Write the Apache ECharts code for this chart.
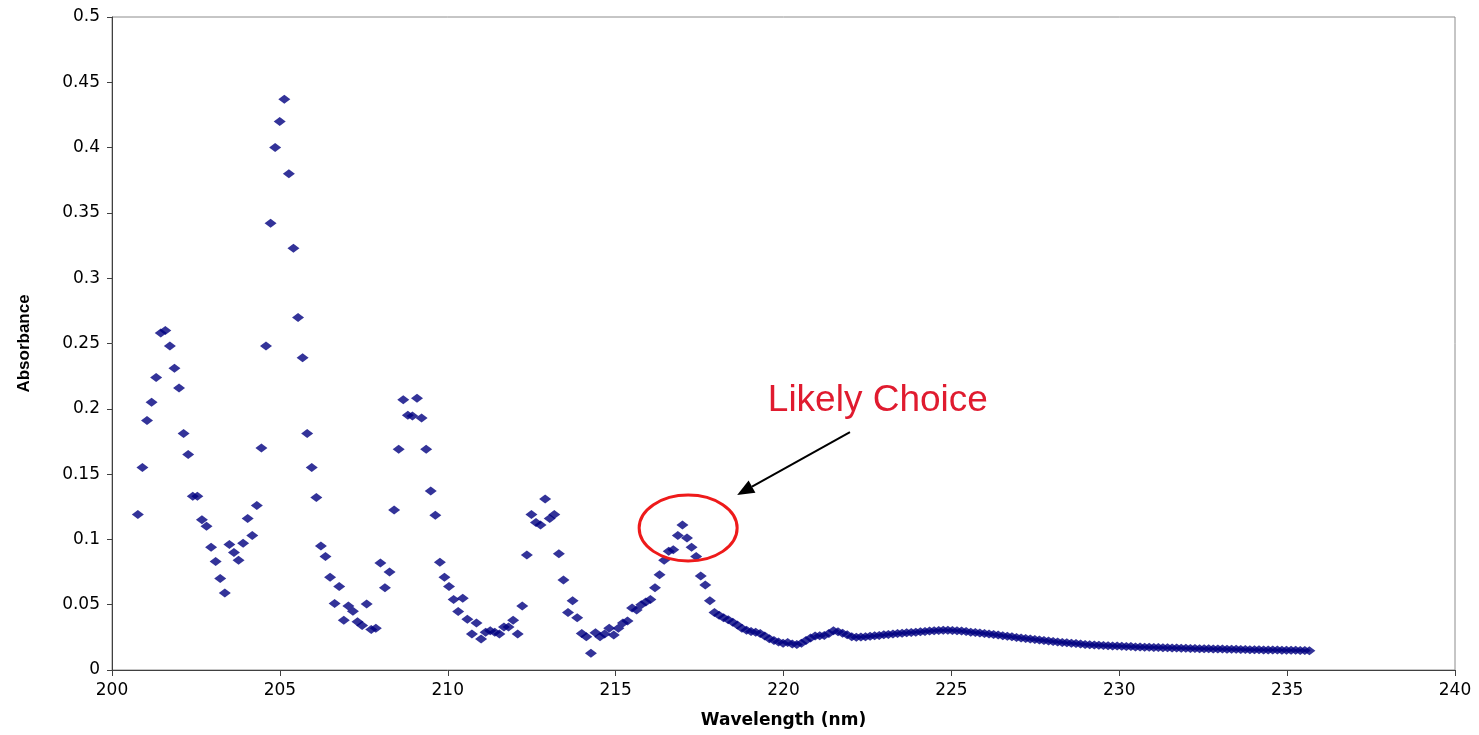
<!DOCTYPE html>
<html>
<head>
<meta charset="utf-8">
<title>Absorbance spectrum</title>
<script src="https://cdn.jsdelivr.net/npm/echarts@6/dist/echarts.min.js"></script>
<style>
    html, body { margin: 0; padding: 0; background: #fff; }
    #chart { width: 1479px; height: 735px; }
</style>
</head>
<body>
<div id="chart"></div>
<script>
// sampling grid of the spectrometer (nm)
const startWavelength = 200.77;
const stepNm = 0.1363;

// absorbance readings, 200.8 - 217.8 nm
const absorbanceHead = [
    0.119, 0.155, 0.191, 0.205, 0.224, 0.258, 0.260, 0.248, 0.231, 0.216,
    0.181, 0.165, 0.133, 0.133, 0.115, 0.110, 0.094, 0.083, 0.070, 0.059,
    0.096, 0.090, 0.084, 0.097, 0.116, 0.103, 0.126, 0.170, 0.248, 0.342,
    0.400, 0.420, 0.437, 0.380, 0.323, 0.270, 0.239, 0.181, 0.155, 0.132,
    0.095, 0.087, 0.071, 0.051, 0.064, 0.038, 0.049, 0.045, 0.037, 0.034,
    0.0505, 0.031, 0.032, 0.082, 0.063, 0.075, 0.1225, 0.169, 0.207, 0.195,
    0.1945, 0.208, 0.193, 0.169, 0.137, 0.1185, 0.0825, 0.071, 0.064, 0.054,
    0.0447, 0.055, 0.0388, 0.0276, 0.036, 0.0237, 0.0289, 0.030, 0.0289, 0.0276,
    0.033, 0.033, 0.038, 0.0276, 0.049, 0.088, 0.119, 0.113, 0.111, 0.131,
    0.116, 0.119, 0.089, 0.069, 0.044, 0.053, 0.040, 0.028, 0.0255, 0.0128,
    0.0286, 0.0255, 0.0276, 0.032, 0.0268, 0.032, 0.036, 0.0375, 0.0475, 0.046,
    0.050, 0.052, 0.054, 0.063, 0.073, 0.084, 0.091, 0.092, 0.103, 0.111,
    0.101, 0.094, 0.087, 0.072, 0.065, 0.053
];

// absorbance readings, 217.9 - 235.7 nm
const absorbanceTail = [
    0.0440, 0.0420, 0.0400, 0.0385, 0.0365, 0.0345, 0.0320, 0.0305, 0.0295, 0.0290,
    0.0280, 0.0260, 0.0240, 0.0225, 0.0215, 0.0205, 0.0210, 0.0200, 0.0195, 0.0205,
    0.0225, 0.0245, 0.0260, 0.0262, 0.0265, 0.0280, 0.0300, 0.0292, 0.0282, 0.0270,
    0.0255, 0.0250, 0.0252, 0.0255, 0.0258, 0.0262, 0.0265, 0.0270, 0.0272, 0.0276,
    0.0280, 0.0282, 0.0285, 0.0288, 0.0290, 0.0292, 0.0295, 0.0298, 0.0300, 0.0302,
    0.0304, 0.0305, 0.0303, 0.0301, 0.0298, 0.0294, 0.0290, 0.0287, 0.0283, 0.0280,
    0.0276, 0.0272, 0.0268, 0.0263, 0.0258, 0.0254, 0.0249, 0.0245, 0.0241, 0.0237,
    0.0233, 0.0229, 0.0226, 0.0222, 0.0218, 0.0215, 0.0211, 0.0208, 0.0205, 0.0202,
    0.0199, 0.0196, 0.0194, 0.0191, 0.0189,
    0.0187, 0.0186, 0.0184, 0.0183, 0.0181, 0.0180, 0.0179, 0.0177, 0.0176, 0.0175,
    0.0174, 0.0173, 0.0172, 0.0171, 0.0170, 0.0169, 0.0168, 0.0167, 0.0166, 0.0165,
    0.0164, 0.0163, 0.0163, 0.0162, 0.0161, 0.0160, 0.0160, 0.0159, 0.0158, 0.0158,
    0.0157, 0.0157, 0.0156, 0.0155, 0.0155, 0.0154, 0.0154, 0.0153, 0.0153, 0.0152,
    0.0152, 0.0151, 0.0151, 0.0150, 0.0149, 0.0148
];

// callout anchors in data units
const calloutText = 'Likely Choice';
const calloutLabelAt = [222.81, 0.206];
const arrowFrom = [221.98, 0.1822];
const arrowTo = [218.62, 0.1340];
const ringAt = [217.16, 0.1087];

const absorbance = absorbanceHead.concat(absorbanceTail);
const points = absorbance.map(function (v, i) {
    return [+(startWavelength + i * stepNm).toFixed(3), v];
});

const tickFont = {
    color: '#000',
    fontFamily: 'DejaVu Sans',
    fontSize: 17
};

const chart = echarts.init(document.getElementById('chart'));

const option = {
    animation: false,
    backgroundColor: '#fff',
    grid: {
        left: 112,
        right: 24,
        top: 17,
        bottom: 65,
        outerBoundsMode: 'none',
        show: true,
        borderColor: '#8c8c8c',
        borderWidth: 1,
        backgroundColor: 'transparent'
    },
    xAxis: {
        type: 'value',
        min: 200,
        max: 240,
        interval: 5,
        name: 'Wavelength (nm)',
        nameLocation: 'middle',
        nameGap: 42,
        nameTextStyle: {
            color: '#000',
            fontFamily: 'DejaVu Sans',
            fontWeight: 'bold',
            fontSize: 17
        },
        splitLine: { show: false },
        axisLine: { lineStyle: { color: '#404040', width: 1 } },
        axisTick: { length: 6, lineStyle: { color: '#404040' } },
        axisLabel: Object.assign({ margin: 12 }, tickFont)
    },
    yAxis: {
        type: 'value',
        min: 0,
        max: 0.5,
        interval: 0.05,
        name: 'Absorbance',
        nameLocation: 'middle',
        nameRotate: 90,
        nameGap: 79,
        nameTextStyle: {
            color: '#000',
            fontFamily: 'Liberation Sans',
            fontWeight: 'bold',
            fontSize: 17
        },
        splitLine: { show: false },
        axisLine: { show: true, lineStyle: { color: '#404040', width: 1 } },
        axisTick: { show: true, length: 5, lineStyle: { color: '#404040' } },
        axisLabel: Object.assign({
            margin: 12,
            formatter: function (v) { return String(+v.toFixed(2)); }
        }, tickFont)
    },
    series: [{
        type: 'scatter',
        symbol: 'diamond',
        symbolSize: [12, 9],
        itemStyle: { color: '#000080' },
        data: points
    }]
};

chart.setOption(option);

// callout: text, arrow and ring placed from data coordinates
const toPx = function (p) { return chart.convertToPixel({ gridIndex: 0 }, p); };
const ring = toPx(ringAt);
const lbl = toPx(calloutLabelAt);
const a0 = toPx(arrowFrom);
const a1 = toPx(arrowTo);
const dx = a1[0] - a0[0], dy = a1[1] - a0[1];
const len = Math.sqrt(dx * dx + dy * dy);
const ux = dx / len, uy = dy / len;
const headLen = 17, headHalf = 7;
const bx = a1[0] - ux * headLen, by = a1[1] - uy * headLen;

chart.setOption({
    graphic: [
        {
            type: 'text',
            x: lbl[0],
            y: lbl[1],
            style: {
                text: calloutText,
                fill: '#E01B2F',
                font: '37px "Liberation Sans", Arial, sans-serif',
                textAlign: 'center',
                textVerticalAlign: 'middle'
            },
            z: 20
        },
        {
            type: 'line',
            shape: { x1: a0[0], y1: a0[1], x2: bx, y2: by },
            style: { stroke: '#000', lineWidth: 2 },
            z: 20
        },
        {
            type: 'polygon',
            shape: {
                points: [
                    [a1[0], a1[1]],
                    [bx - uy * headHalf, by + ux * headHalf],
                    [bx + uy * headHalf, by - ux * headHalf]
                ]
            },
            style: { fill: '#000' },
            z: 20
        },
        {
            type: 'ellipse',
            shape: { cx: ring[0], cy: ring[1], rx: 49, ry: 33 },
            style: { fill: 'none', stroke: '#EE1A1A', lineWidth: 3 },
            z: 20
        }
    ]
});
</script>
</body>
</html>
